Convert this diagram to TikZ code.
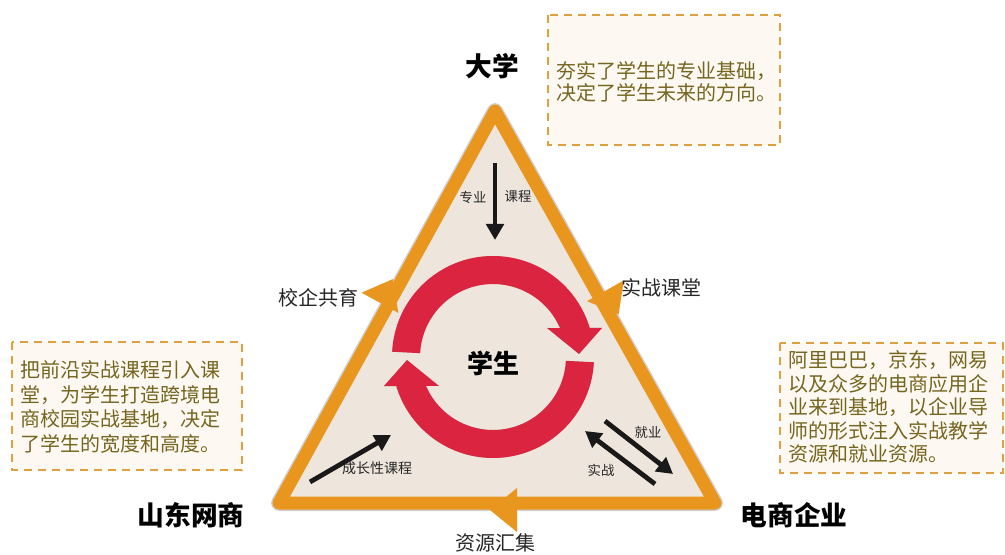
\documentclass[tikz,border=0pt]{standalone}
\usepackage{fontspec}
\setmainfont{Noto Sans CJK SC}
\usetikzlibrary{arrows.meta,calc}
\definecolor{tri}{HTML}{E9961E}
\definecolor{trifill}{HTML}{EEE6DC}
\definecolor{ringred}{HTML}{DB2440}
\definecolor{boxline}{HTML}{E0A040}
\definecolor{boxfill}{HTML}{FDF9F2}
\definecolor{boxtext}{HTML}{76651F}
\begin{document}
\begin{tikzpicture}[x=0.75pt,y=-0.75pt,
  corner/.style={font=\fontsize{20}{24}\selectfont\bfseries, inner sep=0pt},
  mid/.style={font=\fontsize{15}{18}\selectfont, inner sep=0pt, text=black!85},
  small/.style={font=\fontsize{10}{12}\selectfont, inner sep=0pt, text=black!85},
  notebox/.style={draw=boxline, fill=boxfill, line width=1.8pt, dash pattern=on 6pt off 4.5pt},
  notetext/.style={font=\fontsize{15}{18}\selectfont, text=boxtext, align=left, anchor=west, inner sep=0pt},
  blackarrow/.style={line width=3.6pt, black!90, -{Triangle[length=12pt,width=13pt]}},
  headfill/.style={fill=tri}]
\useasboundingbox (0,0) rectangle (1005,555);
\fill[white] (0,0) rectangle (1005,555);

% triangle
\coordinate (A) at (495,111);
\coordinate (BL) at (279,503);
\coordinate (BR) at (715,503);
\draw[black, opacity=0.18, line width=12pt, line join=round, shift={(2,3)}] (A) -- (BR) -- (BL) -- cycle;
\filldraw[fill=trifill, draw=tri, line width=9.75pt, line join=round] (A) -- (BR) -- (BL) -- cycle;

% arrowheads on the triangle edges
\fill[headfill] (392.9,279.1) -- (361.5,292.7) -- (398.3,312.9) -- cycle;
\fill[headfill] (618.6,314.4) -- (623.7,280.5) -- (587.1,301.1) -- cycle;
\fill[headfill] (490,510) -- (517,488) -- (517,532) -- cycle;

% red cycle arrows
\coordinate (C) at (493,357);
\foreach \r in {0,180}{
  \fill[black, opacity=0.15, rotate around={\r:(C)}, shift={(2,3)}]
    ($(C)+(-177:101)$) arc[start angle=-177, end angle=-16.7, radius=101]
    -- ($(C)+(109,-29)$) -- ($(C)+(86,-3)$) -- ($(C)+(54,-29)$)
    -- ($(C)+(-23.4:73)$) arc[start angle=-23.4, end angle=-177, radius=73] -- cycle;
  \fill[ringred, rotate around={\r:(C)}]
    ($(C)+(-177:101)$) arc[start angle=-177, end angle=-16.7, radius=101]
    -- ($(C)+(109,-29)$) -- ($(C)+(86,-3)$) -- ($(C)+(54,-29)$)
    -- ($(C)+(-23.4:73)$) arc[start angle=-23.4, end angle=-177, radius=73] -- cycle;
}

% labels
\node[corner] (daxue) at (492,66) {大学};
\node[corner] (sdws) at (191,515) {山东网商};
\node[corner] (dsqy) at (794,515) {电商企业};
\node[font=\fontsize{19.5}{22}\selectfont\bfseries, inner sep=0pt] (xs) at (493,363) {学生};
\node[mid] (xqgy) at (318,298) {校企共育};
\node[mid] (szkt) at (661,288) {实战课堂};
\node[mid] (zyhj) at (495,543) {资源汇集};

% black arrows
\coordinate (k1) at (495,163);
\coordinate (k2) at (495,240);
\draw[blackarrow] (k1) -- (k2);
\node[small] (zy) at (473,197) {专业};
\node[small] (kc) at (518,197) {课程};

\coordinate (g1) at (310,482);
\coordinate (g2) at (391,435);
\draw[blackarrow] (g1) -- (g2);
\node[small, font=\fontsize{10.5}{12}\selectfont] (czx) at (377,468) {成长性课程};

\coordinate (j1) at (605,421);
\coordinate (j2) at (673,474);
\draw[blackarrow] (j1) -- (j2);
\node[small] (jy) at (648,432) {就业};

\coordinate (s1) at (655,484);
\coordinate (s2) at (585,431);
\draw[blackarrow] (s1) -- (s2);
\node[small] (sz) at (601,470) {实战};

% note boxes
\draw[notebox] (548,15) rectangle (780,145);
\node[notetext, font=\fontsize{15}{16}\selectfont] (n1) at (556,82) {夯实了学生的专业基础，\\决定了学生未来的方向。};

\draw[notebox] (12,342) rectangle (242,470);
\node[notetext, font=\fontsize{15}{18.3}\selectfont] (n2) at (20,407) {把前沿实战课程引入课\\堂，为学生打造跨境电\\商校园实战基地，决定\\了学生的宽度和高度。};

\draw[notebox] (780,343) rectangle (1003,473);
\node[notetext, font=\fontsize{15}{17.6}\selectfont] (n3) at (788,407) {阿里巴巴，京东，网易\\以及众多的电商应用企\\业来到基地，以企业导\\师的形式注入实战教学\\资源和就业资源。};
\end{tikzpicture}
\end{document}
